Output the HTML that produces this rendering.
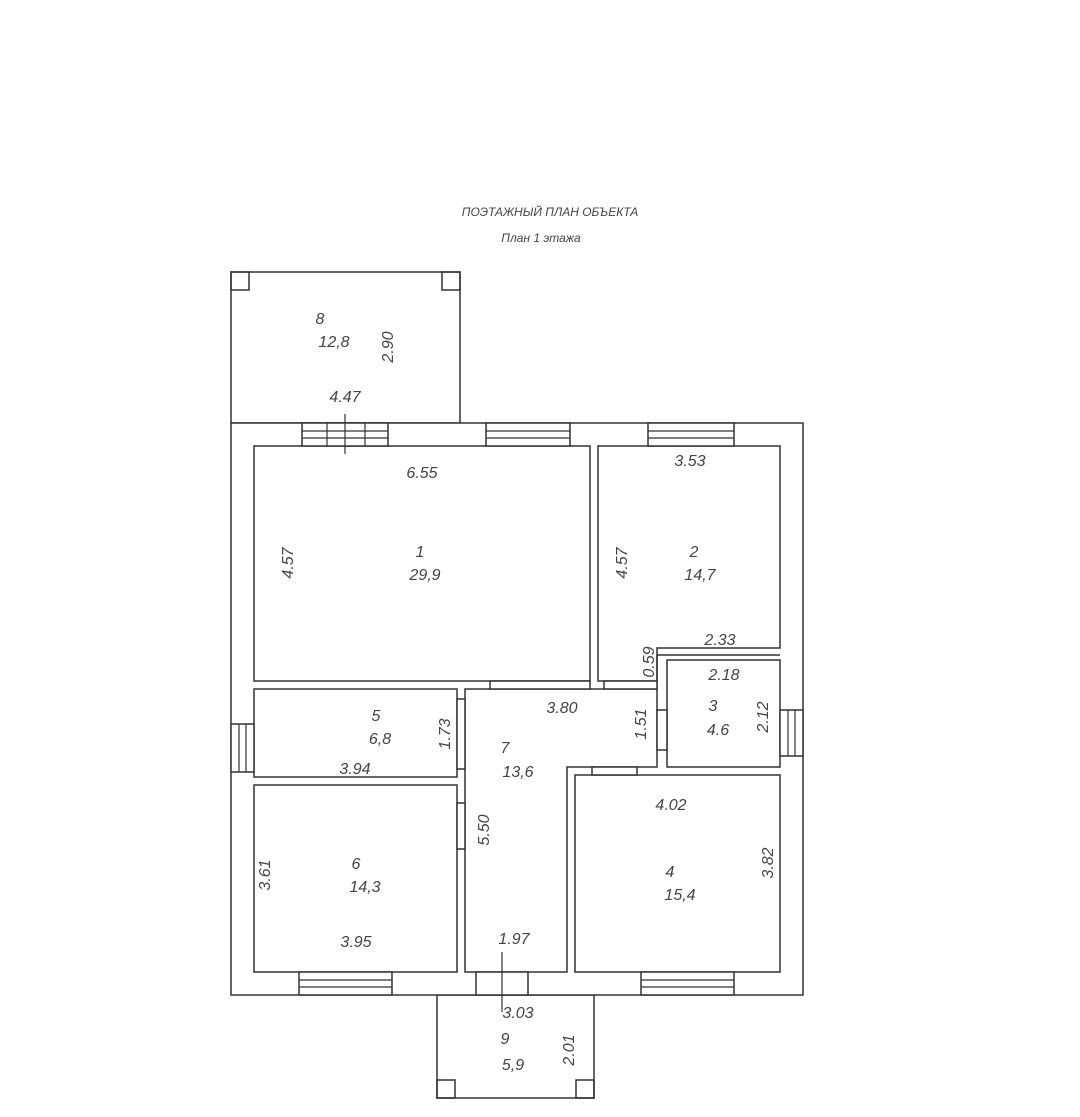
<!DOCTYPE html>
<html><head><meta charset="utf-8"><style>
html,body{margin:0;padding:0;background:#fff}
svg{display:block}
text{font-family:"Liberation Sans","DejaVu Sans",sans-serif;font-style:italic;fill:#444}
</style></head><body>
<svg width="1080" height="1117" viewBox="0 0 1080 1117" xmlns="http://www.w3.org/2000/svg">
<g fill="none" stroke="#333" stroke-width="1.5">
<rect x="231" y="272" width="229" height="151"/>
<rect x="231" y="272" width="18" height="18"/>
<rect x="442" y="272" width="18" height="18"/>
<rect x="437" y="995" width="157" height="103"/>
<rect x="437" y="1080" width="18" height="18"/>
<rect x="576" y="1080" width="18" height="18"/>
<rect x="231" y="423" width="572" height="572" fill="#fff"/>
<rect x="254" y="446" width="336" height="235"/>
<polygon points="598,446 780,446 780,648 657,648 657,681 598,681"/>
<rect x="667" y="660" width="113" height="107"/>
<rect x="254" y="689" width="203" height="88"/>
<rect x="254" y="785" width="203" height="187"/>
<polygon points="465,689 657,689 657,767 567,767 567,972 465,972"/>
<rect x="575" y="775" width="205" height="197"/>
<line x1="657" y1="655" x2="780" y2="655"/>
<line x1="657" y1="655" x2="657" y2="689"/>
</g>
<g fill="#fff" stroke="#333" stroke-width="1.5">
<rect x="302" y="423" width="86" height="23"/>
<rect x="486" y="423" width="84" height="23"/>
<rect x="648" y="423" width="86" height="23"/>
<rect x="231" y="724" width="23" height="48"/>
<rect x="780" y="710" width="23" height="46"/>
<rect x="299" y="972" width="93" height="23"/>
<rect x="641" y="972" width="93" height="23"/>
<rect x="476" y="972" width="52" height="23"/>
<rect x="490" y="681" width="100" height="8"/>
<rect x="604" y="681" width="53" height="8"/>
<rect x="457" y="699" width="8" height="70"/>
<rect x="457" y="803" width="8" height="46"/>
<rect x="657" y="710" width="10" height="40"/>
<rect x="592" y="767" width="45" height="8"/>
</g>
<g stroke="#333" stroke-width="1.2">
<line x1="302" y1="431" x2="388" y2="431"/><line x1="302" y1="438" x2="388" y2="438"/>
<line x1="327" y1="423" x2="327" y2="446"/><line x1="365" y1="423" x2="365" y2="446"/>
<line x1="345" y1="414" x2="345" y2="454"/>
<line x1="486" y1="431" x2="570" y2="431"/><line x1="486" y1="438" x2="570" y2="438"/>
<line x1="648" y1="431" x2="734" y2="431"/><line x1="648" y1="438" x2="734" y2="438"/>
<line x1="239" y1="724" x2="239" y2="772"/><line x1="246" y1="724" x2="246" y2="772"/>
<line x1="788" y1="710" x2="788" y2="756"/><line x1="795" y1="710" x2="795" y2="756"/>
<line x1="299" y1="980" x2="392" y2="980"/><line x1="299" y1="987" x2="392" y2="987"/>
<line x1="641" y1="980" x2="734" y2="980"/><line x1="641" y1="987" x2="734" y2="987"/>
<line x1="502" y1="952" x2="502" y2="1012"/>
</g>
<text x="550" y="216" font-size="12" text-anchor="middle">ПОЭТАЖНЫЙ ПЛАН ОБЪЕКТА</text>
<text x="541" y="242" font-size="12" text-anchor="middle">План 1 этажа</text>
<g font-size="16" text-anchor="middle">
<text x="320" y="324">8</text><text x="334" y="347">12,8</text>
<text x="393" y="347" transform="rotate(-90 393 347)">2.90</text>
<text x="345" y="402">4.47</text>
<text x="422" y="478">6.55</text>
<text x="420" y="557">1</text><text x="425" y="580">29,9</text>
<text x="293" y="563" transform="rotate(-90 293 563)">4.57</text>
<text x="690" y="466">3.53</text>
<text x="694" y="557">2</text><text x="700" y="564" dy="16">14,7</text>
<text x="627" y="563" transform="rotate(-90 627 563)">4.57</text>
<text x="720" y="645">2.33</text>
<text x="654" y="662" transform="rotate(-90 654 662)">0.59</text>
<text x="724" y="680">2.18</text>
<text x="713" y="711">3</text><text x="718" y="735">4.6</text>
<text x="768" y="717" transform="rotate(-90 768 717)">2.12</text>
<text x="562" y="713">3.80</text>
<text x="646" y="724" transform="rotate(-90 646 724)">1.51</text>
<text x="376" y="721">5</text><text x="380" y="744">6,8</text>
<text x="450" y="734" transform="rotate(-90 450 734)">1.73</text>
<text x="355" y="774">3.94</text>
<text x="505" y="753">7</text><text x="518" y="777">13,6</text>
<text x="489" y="830" transform="rotate(-90 489 830)">5.50</text>
<text x="671" y="810">4.02</text>
<text x="670" y="877">4</text><text x="680" y="900">15,4</text>
<text x="773" y="863" transform="rotate(-90 773 863)">3.82</text>
<text x="356" y="869">6</text><text x="365" y="892">14,3</text>
<text x="270" y="875" transform="rotate(-90 270 875)">3.61</text>
<text x="356" y="947">3.95</text>
<text x="514" y="944">1.97</text>
<text x="518" y="1018">3.03</text>
<text x="505" y="1044">9</text><text x="513" y="1070">5,9</text>
<text x="574" y="1050" transform="rotate(-90 574 1050)">2.01</text>
</g>
</svg>
</body></html>
